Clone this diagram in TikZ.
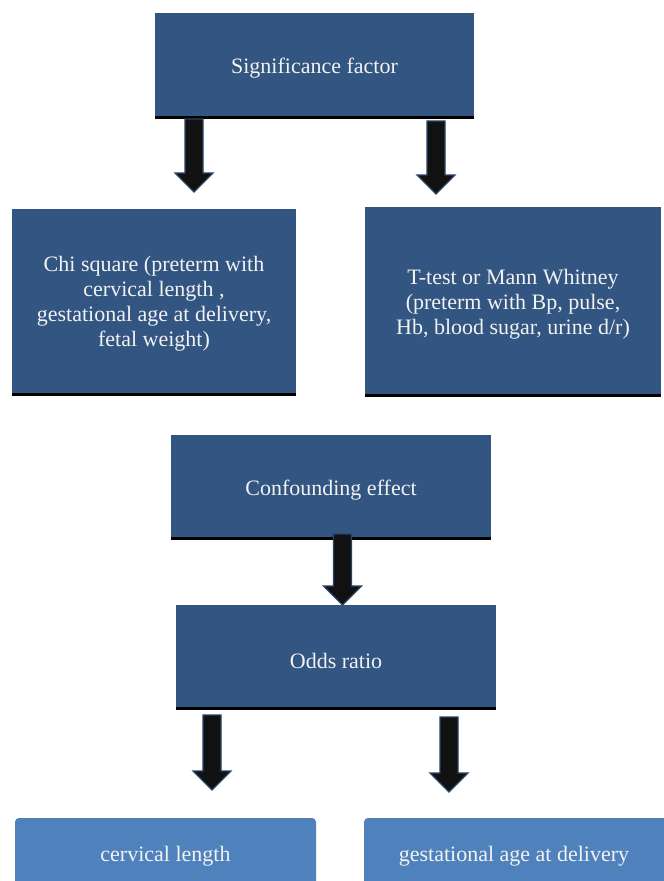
\documentclass[tikz,border=0pt]{standalone}
\usepackage{fontspec}
\setmainfont{Liberation Serif}
\usetikzlibrary{calc}
\definecolor{darkbox}{HTML}{325581}
\definecolor{lightbox}{HTML}{4F81BD}
\definecolor{arrowfill}{HTML}{111111}
\definecolor{arrowedge}{HTML}{2A4466}
\definecolor{boxtext}{HTML}{F2F2F2}
\tikzset{
  x=1pt, y=-1pt,
  boxfont/.style={font=\fontsize{22}{25}\selectfont},
  darkrect/.style={fill=darkbox, draw=none, inner sep=0pt, text=boxtext, align=center, boxfont},
  lighttext/.style={inner sep=0pt, text=boxtext, align=center, boxfont},
  baseline/.style={line width=3pt, black},
  blockarrow/.style={fill=arrowfill, draw=arrowedge, line width=1.2pt, line join=miter},
}
% block arrow: #1 = top-centre x, #2 = top y, #3 = tip y
\newcommand{\downarrowblock}[3]{%
  \draw[blockarrow] (#1-9,#2) -- (#1+9,#2) -- (#1+9,#3-19) -- (#1+19,#3-19) -- (#1,#3)
    -- (#1-19,#3-19) -- (#1-9,#3-19) -- cycle;}
\begin{document}
\begin{tikzpicture}
\useasboundingbox (0,0) rectangle (664,881);
\clip (0,0) rectangle (664,881);
% boxes
\fill[darkbox] (155,13) rectangle (474,116);
\node[darkrect] (sig) at (314.5,68) {Significance factor};
\draw[baseline] (155,117.5) -- (474,117.5);

\fill[darkbox] (12,209) rectangle (296,393);
\node[darkrect] (chi) at (154,304) {Chi square (preterm with\\cervical length ,\\gestational age at delivery,\\fetal weight)};
\draw[baseline] (12,394.5) -- (296,394.5);

\fill[darkbox] (365,207) rectangle (661,394);
\node[darkrect] (ttest) at (513,304) {T-test or Mann Whitney\\(preterm with Bp, pulse,\\Hb, blood sugar, urine d/r)};
\draw[baseline] (365,395.5) -- (661,395.5);

\fill[darkbox] (171,435) rectangle (491,537);
\node[darkrect] (conf) at (331,490) {Confounding effect};
\draw[baseline] (171,538.5) -- (491,538.5);

\fill[darkbox] (176,605) rectangle (496,707);
\node[darkrect] (odds) at (336,661) {Odds ratio};
\draw[baseline] (176,708.5) -- (496,708.5);

\fill[lightbox, rounded corners=4pt] (15,818) rectangle (316,900);
\node[lighttext] (cerv) at (165.5,856) {cervical length};

\fill[lightbox, rounded corners=4pt] (364,818) rectangle (668,900);
\node[lighttext] (gest) at (514,856) {gestational age at delivery};

% arrows
\downarrowblock{194}{119}{192}
\downarrowblock{436}{121}{194}
\downarrowblock{342.5}{534}{605}
\downarrowblock{212}{715}{790}
\downarrowblock{449}{717}{792}
\end{tikzpicture}
\end{document}
